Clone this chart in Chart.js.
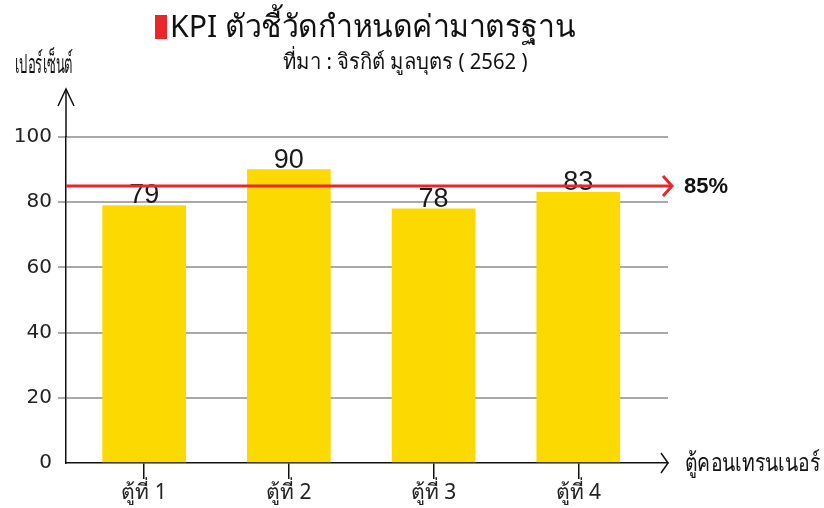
<!DOCTYPE html>
<html lang="th">

<head>
    <meta charset="UTF-8">
    <title>KPI ตัวชี้วัดกำหนดค่ามาตรฐาน</title>
    <style>
        body { margin: 0; background: #fff; }
        canvas { display: block; }
    </style>
</head>

<body>
    <canvas id="graficoKpi" width="824" height="508"></canvas>
</body>

</html>
<script src="https://cdn.jsdelivr.net/npm/chart.js"></script>
<script>
    // ข้อมูลของกราฟ
    const categorias = ['ตู้ที่ 1', 'ตู้ที่ 2', 'ตู้ที่ 3', 'ตู้ที่ 4'];
    const percentuais = [79, 90, 78, 83];
    const metaKpi = 85;
    const escalaY = [0, 100, 20]; // min, max, passo

    const fonteThai = '"Noto Sans", "DejaVu Sans", sans-serif';

    // barras em posições 1..4 num eixo linear
    const pontos = percentuais.map(function (v, i) { return { x: i + 1, y: v }; });

    function seta(ctx, x, y, dx, dy, cor, larg) {
        ctx.save();
        ctx.strokeStyle = cor;
        ctx.lineWidth = larg;
        ctx.beginPath();
        ctx.moveTo(x + dx[0], y + dy[0]);
        ctx.lineTo(x, y);
        ctx.lineTo(x + dx[1], y + dy[1]);
        ctx.stroke();
        ctx.restore();
    }

    // texto tailandês comprimido na horizontal até a largura desejada
    function textoEstreito(ctx, texto, x, y, larguraMax, alinhamento) {
        const w = ctx.measureText(texto).width;
        const k = Math.min(1, larguraMax / w);
        ctx.save();
        ctx.translate(x, y);
        ctx.scale(k, 1);
        ctx.textAlign = alinhamento;
        ctx.fillText(texto, 0, 0);
        ctx.restore();
    }

    const extras = {
        id: 'extras',
        afterDatasetsDraw: function (chart) {
            const ctx = chart.ctx;
            const area = chart.chartArea;
            const y = chart.scales.y;
            const meta = chart.getDatasetMeta(0);

            // valores acima das barras
            ctx.save();
            ctx.fillStyle = '#1a1a1a';
            ctx.font = '27px "Liberation Sans Narrow", "Liberation Sans", sans-serif';
            ctx.textAlign = 'center';
            ctx.textBaseline = 'alphabetic';
            meta.data.forEach(function (bar, i) {
                ctx.fillText(String(percentuais[i]), bar.x, bar.y - 2);
            });
            ctx.restore();

            // linha da meta
            const yMeta = y.getPixelForValue(metaKpi);
            ctx.save();
            ctx.strokeStyle = '#e8262b';
            ctx.lineWidth = 3;
            ctx.beginPath();
            ctx.moveTo(area.left, yMeta);
            ctx.lineTo(area.right + 4, yMeta);
            ctx.stroke();
            ctx.restore();
            seta(ctx, area.right + 4, yMeta, [-9, -9], [-10, 10], '#e8262b', 3);

            ctx.save();
            ctx.fillStyle = '#111';
            ctx.font = 'bold 22px "Liberation Sans", sans-serif';
            ctx.textAlign = 'left';
            ctx.textBaseline = 'middle';
            ctx.fillText(metaKpi + '%', area.right + 16, yMeta + 1);
            ctx.restore();

            // setas dos eixos
            ctx.save();
            ctx.strokeStyle = '#111';
            ctx.lineWidth = 1.5;
            ctx.beginPath();
            ctx.moveTo(area.left, area.top);
            ctx.lineTo(area.left, area.top - 48);
            ctx.stroke();
            ctx.restore();
            seta(ctx, area.left, area.top - 48, [-8, 8], [17, 17], '#111', 1.5);
            seta(ctx, area.right, area.bottom, [-7, -7], [-10, 10], '#111', 1.5);

            // títulos
            ctx.save();
            ctx.fillStyle = '#e8262b';
            ctx.fillRect(155, 15, 12, 24);
            ctx.fillStyle = '#111';
            ctx.textBaseline = 'middle';
            ctx.font = '31px ' + fonteThai;
            textoEstreito(ctx, 'KPI ตัวชี้วัดกำหนดค่ามาตรฐาน', 170, 28, 405, 'left');
            ctx.font = '22px ' + fonteThai;
            textoEstreito(ctx, 'ที่มา : จิรกิต์ มูลบุตร ( 2562 )', 405, 63, 245, 'center');
            ctx.font = '27px ' + fonteThai;
            textoEstreito(ctx, 'เปอร์เซ็นต์', 15, 65, 58, 'left');
            ctx.font = '25px ' + fonteThai;
            textoEstreito(ctx, 'ตู้คอนเทรนเนอร์', 685, area.bottom + 1, 135, 'left');
            ctx.restore();
        }
    };

    const grafico = document.getElementById('graficoKpi').getContext('2d');

    new Chart(grafico, {
        type: 'bar',
        data: {
            datasets: [{
                label: 'เปอร์เซ็นต์',
                data: pontos,
                backgroundColor: '#fcd900',
                borderWidth: 0,
                barThickness: 83
            }]
        },
        options: {
            responsive: false,
            animation: false,
            layout: {
                padding: { top: 137, right: 156, left: 0, bottom: 0 }
            },
            plugins: {
                legend: { display: false },
                tooltip: { enabled: false }
            },
            scales: {
                x: {
                    type: 'linear',
                    min: 0.46,
                    max: 4.62,
                    offset: false,
                    afterFit: function (escala) { escala.height = 45; },
                    ticks: {
                        stepSize: 1,
                        includeBounds: false,
                        padding: 1,
                        color: '#222',
                        font: { family: fonteThai, size: 21 },
                        callback: function (valor) {
                            return Number.isInteger(valor) ? (categorias[valor - 1] || '') : '';
                        }
                    },
                    grid: {
                        offset: false,
                        drawOnChartArea: false,
                        drawTicks: true,
                        tickLength: 16,
                        color: '#111',
                        lineWidth: 1.5
                    },
                    border: { color: '#111', width: 1.5 }
                },
                y: {
                    min: escalaY[0],
                    max: escalaY[1],
                    afterFit: function (escala) { escala.width = 66; },
                    ticks: {
                        stepSize: escalaY[2],
                        padding: 6,
                        color: '#222',
                        font: { family: '"DejaVu Sans", sans-serif', size: 20 }
                    },
                    grid: {
                        tickLength: 8,
                        lineWidth: 2,
                        color: function (c) { return c.tick && c.tick.value === 0 ? 'rgba(0,0,0,0)' : '#a9a9a9'; }
                    },
                    border: { color: '#111', width: 1.5 }
                }
            }
        },
        plugins: [extras]
    });
</script>
